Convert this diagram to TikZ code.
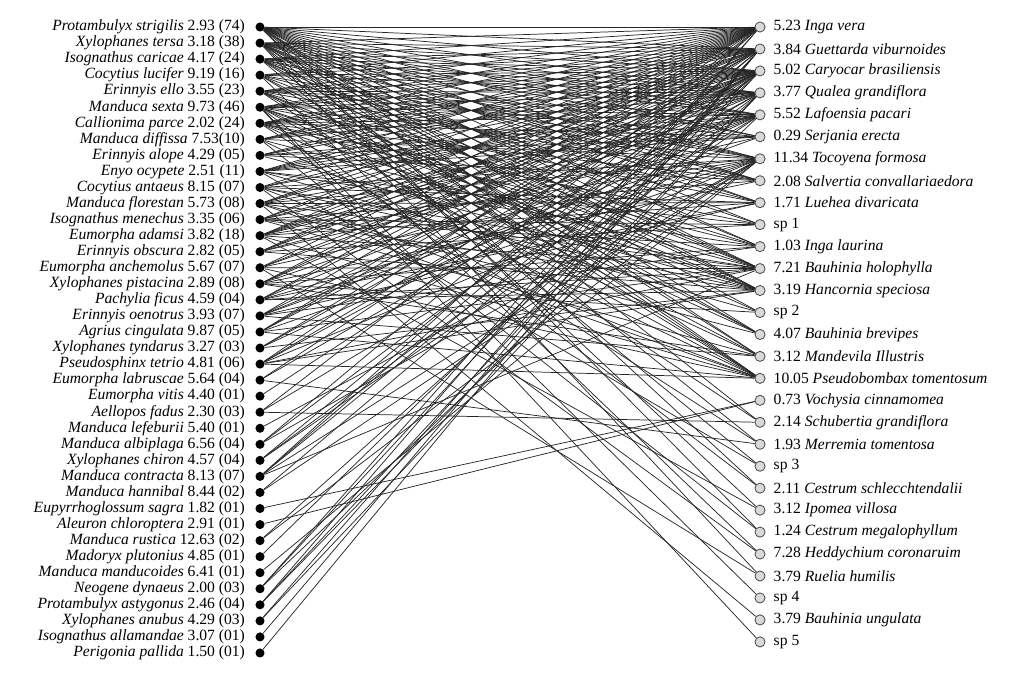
\documentclass[tikz,border=0pt]{standalone}
\usepackage{fontspec}
\setmainfont{Liberation Serif}
\usetikzlibrary{positioning, backgrounds}
\tikzset{
moth/.style={shape=circle, minimum size=6.8pt, inner sep=0, fill=black}, plant/.style={shape=circle, minimum size=7.6pt, inner sep=0, draw=gray!55!black, fill=gray!30, line width=0.6pt}, tag/.style={inner sep=0, font=\fontsize{11.7}{13}\selectfont}, link/.style={gray!30!black, line width=0.55pt}}

\begin{document}
\begin{tikzpicture}[x=0.75pt, y=-0.75pt]
\useasboundingbox (0,0) rectangle (1024,697);
% moths (left column)
\foreach \name/\val [count=\i] in {Protambulyx strigilis/2.93 (74), Xylophanes tersa/3.18 (38), Isognathus caricae/4.17 (24), Cocytius lucifer/9.19 (16), Erinnyis ello/3.55 (23), Manduca sexta/9.73 (46), Callionima parce/2.02 (24), Manduca diffissa/7.53(10), Erinnyis alope/4.29 (05), Enyo ocypete/2.51 (11), Cocytius antaeus/8.15 (07), Manduca florestan/5.73 (08), Isognathus menechus/3.35 (06), Eumorpha adamsi/3.82 (18), Erinnyis obscura/2.82 (05), Eumorpha anchemolus/5.67 (07), Xylophanes pistacina/2.89 (08), Pachylia ficus/4.59 (04), Erinnyis oenotrus/3.93 (07), Agrius cingulata/9.87 (05), Xylophanes tyndarus/3.27 (03), Pseudosphinx tetrio/4.81 (06), Eumorpha labruscae/5.64 (04), Eumorpha vitis/4.40 (01), Aellopos fadus/2.30 (03), Manduca lefeburii/5.40 (01), Manduca albiplaga/6.56 (04), Xylophanes chiron/4.57 (04), Manduca contracta/8.13 (07), Manduca hannibal/8.44 (02), Eupyrrhoglossum sagra/1.82 (01), Aleuron chloroptera/2.91 (01), Manduca rustica/12.63 (02), Madoryx plutonius/4.85 (01), Manduca manducoides/6.41 (01), Neogene dynaeus/2.00 (03), Protambulyx astygonus/2.46 (04), Xylophanes anubus/4.29 (03), Isognathus allamandae/3.07 (01), Perigonia pallida/1.50 (01)}{
      \node [moth] at (260, 10.95 + 16.05*\i) (l-\i) {};
      \node [tag, left=7.5pt of l-\i] (lt-\i) {\textit{\name} \val};
}
% plants (right column)
\foreach \val/\name [count=\j] in {5.23/Inga vera, 3.84/Guettarda viburnoides, 5.02/Caryocar brasiliensis, 3.77/Qualea grandiflora, 5.52/Lafoensia pacari, 0.29/Serjania erecta, 11.34/Tocoyena formosa, 2.08/Salvertia convallariaedora, 1.71/Luehea divaricata, sp 1/, 1.03/Inga laurina, 7.21/Bauhinia holophylla, 3.19/Hancornia speciosa, sp 2/, 4.07/Bauhinia brevipes, 3.12/Mandevila Illustris, 10.05/Pseudobombax tomentosum, 0.73/Vochysia cinnamomea, 2.14/Schubertia grandiflora, 1.93/Merremia tomentosa, sp 3/, 2.11/Cestrum schlecchtendalii, 3.12/Ipomea villosa, 1.24/Cestrum megalophyllum, 7.28/Heddychium coronaruim, 3.79/Ruelia humilis, sp 4/, 3.79/Bauhinia ungulata, sp 5/}{
      \node [plant] at (760, 5.04 + 21.96*\j) (r-\j) {};
      \node [tag, right=6pt of r-\j] (rt-\j) {\val\ \textit{\name}};
}
% interactions
\begin{pgfonlayer}{background}
\foreach \i/\targets in {1/{1,2,3,4,5,6,7,8,9,10,11,12,13,15,16,17,19,22,24}, 2/{1,2,3,4,5,6,7,8,9,11,12,13,14,16,17,20,23,26}, 3/{1,2,3,4,5,7,8,10,12,13,15,17,21}, 4/{1,2,3,4,7,9,12,15,17,25}, 5/{1,2,3,4,5,6,8,11,13,14,16,19}, 6/{1,2,3,4,5,7,9,12,13,15,17,22,27,29}, 7/{1,2,3,4,5,6,8,10,11,13,16,20}, 8/{1,2,3,4,7,12,17,24}, 9/{1,2,3,5,6,8,13}, 10/{1,2,3,4,5,6,10,11,14,21}, 11/{1,3,4,7,9,12,13,17,25}, 12/{1,2,3,5,7,9,12,15,17,28}, 13/{1,2,4,5,8,10,11,13,16}, 14/{1,2,3,4,5,7,9,12,17,23}, 15/{1,2,3,5,6,10,13}, 16/{1,3,4,7,12,17,26}, 17/{1,2,3,5,8,11,14,16}, 18/{1,2,4,7,9,12,13}, 19/{1,3,5,6,9,11,16}, 20/{1,2,3,7,12,17}, 21/{2,3,5,13}, 22/{1,3,4,7,12,13,17}, 23/{2,4,20}, 24/{3}, 25/{1,5,19}, 26/{7}, 27/{1,3,7}, 28/{2,4,5}, 29/{1,2,3,7,12}, 30/{3,7}, 31/{18}, 32/{18}, 33/{4,7}, 34/{3}, 35/{7}, 36/{1,2,5}, 37/{1,3,4}, 38/{2,4}, 39/{2}, 40/{2}}{
      \foreach \j in \targets
          \draw [link] (l-\i) -- (r-\j);
}
\end{pgfonlayer}
\end{tikzpicture}
\end{document}
